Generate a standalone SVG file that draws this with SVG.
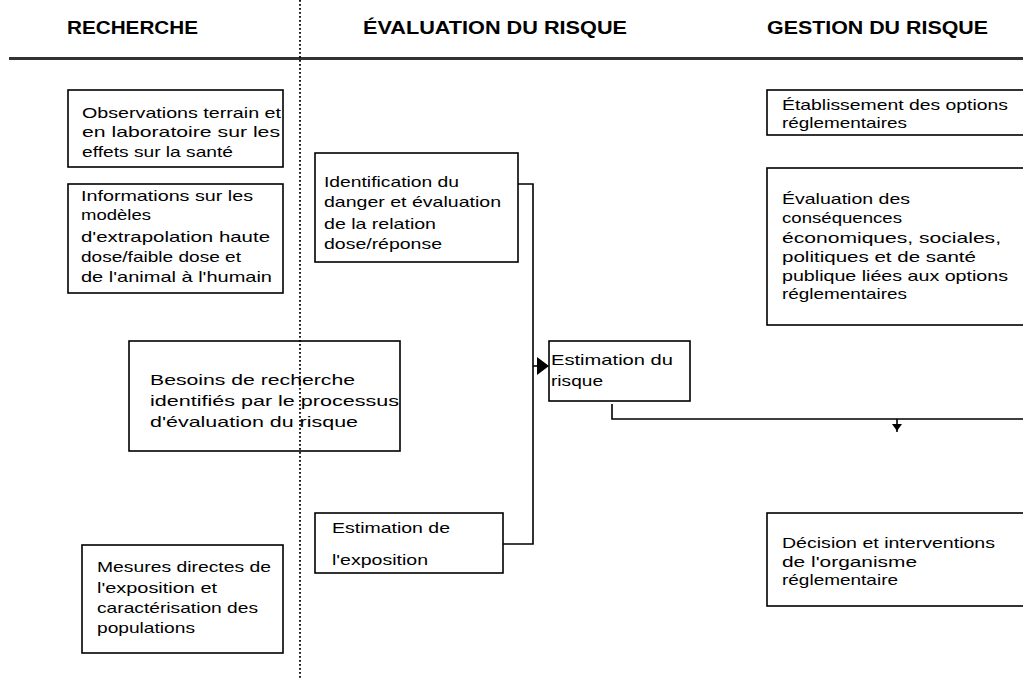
<svg xmlns="http://www.w3.org/2000/svg" width="1023" height="680" viewBox="0 0 1023 680">
<style>
.box{fill:#fff;stroke:#000;stroke-width:1.6}
.t{font-family:"Liberation Sans",Arial,sans-serif;font-size:15px;fill:#000}
.h{font-family:"Liberation Sans",Arial,sans-serif;font-size:19px;font-weight:bold;fill:#000}
.c{fill:none;stroke:#000;stroke-width:1.6}
</style>
<rect width="1023" height="680" fill="#fff"/>
<g id="headers">
<text class="h" x="67" y="34" textLength="131" lengthAdjust="spacingAndGlyphs">RECHERCHE</text>
<text class="h" x="363" y="34" textLength="264" lengthAdjust="spacingAndGlyphs">ÉVALUATION DU RISQUE</text>
<text class="h" x="767" y="34" textLength="221" lengthAdjust="spacingAndGlyphs">GESTION DU RISQUE</text>
<rect x="9" y="57" width="1014" height="3" fill="#333"/>
</g>
<g id="n-observations">
<rect class="box" x="68" y="90" width="215" height="77"/>
<text class="t" x="82" y="118" textLength="199" lengthAdjust="spacingAndGlyphs">Observations terrain et</text>
<text class="t" x="82" y="137" textLength="198" lengthAdjust="spacingAndGlyphs">en laboratoire sur les</text>
<text class="t" x="82" y="157" textLength="151" lengthAdjust="spacingAndGlyphs">effets sur la santé</text>
</g>
<g id="n-informations">
<rect class="box" x="68" y="184" width="215" height="109"/>
<text class="t" x="81" y="201" textLength="172" lengthAdjust="spacingAndGlyphs">Informations sur les</text>
<text class="t" x="81" y="220" textLength="70" lengthAdjust="spacingAndGlyphs">modèles</text>
<text class="t" x="81" y="242" textLength="189" lengthAdjust="spacingAndGlyphs">d'extrapolation haute</text>
<text class="t" x="81" y="262" textLength="160" lengthAdjust="spacingAndGlyphs">dose/faible dose et</text>
<text class="t" x="81" y="282" textLength="191" lengthAdjust="spacingAndGlyphs">de l'animal à l'humain</text>
</g>
<g id="n-identification">
<rect class="box" x="315" y="153" width="203" height="109"/>
<text class="t" x="324" y="187" textLength="135" lengthAdjust="spacingAndGlyphs">Identification du</text>
<text class="t" x="324" y="207" textLength="177" lengthAdjust="spacingAndGlyphs">danger et évaluation</text>
<text class="t" x="324" y="229" textLength="112" lengthAdjust="spacingAndGlyphs">de la relation</text>
<text class="t" x="324" y="249" textLength="118" lengthAdjust="spacingAndGlyphs">dose/réponse</text>
</g>
<g id="n-besoins">
<rect class="box" x="129" y="341" width="271" height="110"/>
<text class="t" x="150" y="385" textLength="205" lengthAdjust="spacingAndGlyphs">Besoins de recherche</text>
<text class="t" x="150" y="406" textLength="249" lengthAdjust="spacingAndGlyphs">identifiés par le processus</text>
<text class="t" x="150" y="427" textLength="208" lengthAdjust="spacingAndGlyphs">d'évaluation du risque</text>
</g>
<g id="n-estimation-risque">
<rect class="box" x="549" y="341" width="141" height="60"/>
<text class="t" x="551" y="365" textLength="122" lengthAdjust="spacingAndGlyphs">Estimation du</text>
<text class="t" x="551" y="386" textLength="52" lengthAdjust="spacingAndGlyphs">risque</text>
</g>
<g id="n-estimation-exposition">
<rect class="box" x="315" y="513" width="188" height="60"/>
<text class="t" x="332" y="533" textLength="118" lengthAdjust="spacingAndGlyphs">Estimation de</text>
<text class="t" x="332" y="565" textLength="96" lengthAdjust="spacingAndGlyphs">l'exposition</text>
</g>
<g id="n-mesures">
<rect class="box" x="82" y="545" width="201" height="108"/>
<text class="t" x="97" y="572" textLength="174" lengthAdjust="spacingAndGlyphs">Mesures directes de</text>
<text class="t" x="97" y="593" textLength="120" lengthAdjust="spacingAndGlyphs">l'exposition et</text>
<text class="t" x="97" y="613" textLength="161" lengthAdjust="spacingAndGlyphs">caractérisation des</text>
<text class="t" x="97" y="633" textLength="98" lengthAdjust="spacingAndGlyphs">populations</text>
</g>
<g id="n-etablissement">
<rect class="box" x="767" y="90" width="270" height="45"/>
<text class="t" x="782" y="110" textLength="226" lengthAdjust="spacingAndGlyphs">Établissement des options</text>
<text class="t" x="782" y="128" textLength="125" lengthAdjust="spacingAndGlyphs">réglementaires</text>
</g>
<g id="n-evaluation-consequences">
<rect class="box" x="767" y="168" width="270" height="157"/>
<text class="t" x="782" y="204" textLength="128" lengthAdjust="spacingAndGlyphs">Évaluation des</text>
<text class="t" x="782" y="223" textLength="120" lengthAdjust="spacingAndGlyphs">conséquences</text>
<text class="t" x="782" y="243" textLength="219" lengthAdjust="spacingAndGlyphs">économiques, sociales,</text>
<text class="t" x="782" y="262" textLength="194" lengthAdjust="spacingAndGlyphs">politiques et de santé</text>
<text class="t" x="782" y="281" textLength="226" lengthAdjust="spacingAndGlyphs">publique liées aux options</text>
<text class="t" x="782" y="299" textLength="125" lengthAdjust="spacingAndGlyphs">réglementaires</text>
</g>
<g id="n-decision">
<rect class="box" x="767" y="513" width="270" height="93"/>
<text class="t" x="782" y="548" textLength="213" lengthAdjust="spacingAndGlyphs">Décision et interventions</text>
<text class="t" x="782" y="567" textLength="135" lengthAdjust="spacingAndGlyphs">de l'organisme</text>
<text class="t" x="782" y="585" textLength="116" lengthAdjust="spacingAndGlyphs">réglementaire</text>
</g>
<g id="connectors">
<path class="c" d="M518,184 H533 V544 H503"/>
<path class="c" d="M533,366 H540"/>
<polygon points="537,357 549,366 537,375" fill="#000"/>
<path class="c" d="M612,404 V419 H1023"/>
<path class="c" d="M897,419 V432"/>
<polygon points="892,424 902,424 897,431" fill="#000"/>
</g>
<g id="divider">
<line x1="300" y1="0" x2="300" y2="680" stroke="#000" stroke-width="1.8" stroke-dasharray="1.8 2.2"/>
</g>
</svg>
